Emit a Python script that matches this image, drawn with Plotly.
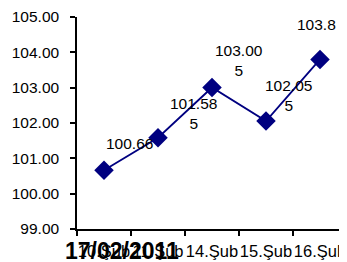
import plotly.graph_objects as go

categories = ["10.Şub", "11.Şub", "14.Şub", "15.Şub", "16.Şub"]
values = [100.66, 101.585, 103.005, 102.055, 103.8]
label_texts = ["100.66", "101.58<br>5", "103.00<br>5", "102.05<br>5", "103.8"]
y_ticks = [99, 100, 101, 102, 103, 104, 105]
title_text = "17/02/2011"

# label offsets (pixels) - styling only
label_dx = [25, 35, 27, 22, -4]
label_dy = [27, 24, 27, 26, 35]

NAVY = "#000080"
FONT = "Liberation Sans, Arial, sans-serif"

fig = go.Figure()
fig.add_trace(go.Scatter(
    x=categories, y=values, mode="lines+markers",
    line=dict(color=NAVY, width=1.8),
    marker=dict(symbol="diamond", size=15, color=NAVY),
    showlegend=False, hoverinfo="skip", cliponaxis=False,
))

for c, v, t, dx, dy in zip(categories, values, label_texts, label_dx, label_dy):
    fig.add_annotation(x=c, y=v, text=t, showarrow=False, xshift=dx, yshift=dy,
                       font=dict(family=FONT, size=15.5, color="black"),
                       xanchor="center", yanchor="middle", align="center")

# page body adds an 8px margin, so the figure is sized/offset to compensate
fig.update_layout(
    width=339, height=254,
    margin=dict(l=69, r=0, t=9, b=33),
    paper_bgcolor="white", plot_bgcolor="white",
    title=dict(text="<b>" + title_text + "</b>", x=57 / 339, xanchor="left",
               y=0.0, yanchor="bottom", yref="container",
               font=dict(family=FONT, size=23, color="black"), pad=dict(b=3)),
    xaxis=dict(type="category", showline=True, linecolor="black", linewidth=1.5,
               ticks="outside", tickson="boundaries", ticklen=5, tickcolor="black",
               tickwidth=1.5, showgrid=False, zeroline=False, tickangle=0,
               automargin=False, ticklabelstandoff=6,
               tickfont=dict(family=FONT, size=16.5, color="black"),
               range=[-0.5, 4.5]),
    yaxis=dict(range=[99, 105], tickvals=y_ticks, tickformat=".2f",
               showline=True, linecolor="black", linewidth=1.5,
               ticks="outside", ticklen=5, tickcolor="black", tickwidth=1.5,
               showgrid=False, zeroline=False, ticklabelstandoff=8,
               automargin=False,
               tickfont=dict(family=FONT, size=15.5, color="black")),
)

fig.write_html("out.html")
